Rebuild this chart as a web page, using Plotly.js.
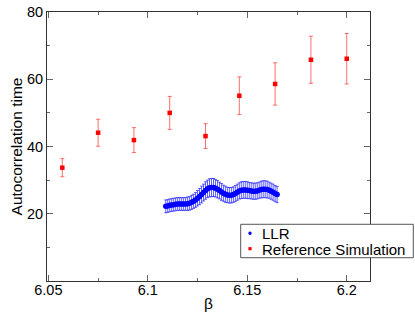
<!DOCTYPE html>
<html>
<head>
<meta charset="utf-8">
<script src="https://cdn.plot.ly/plotly-3.0.1.min.js"></script>
<style>html,body{margin:0;padding:0;background:#fff;}#chart{width:415px;height:321px;}</style>
</head>
<body>
<div id="chart"></div>
<script>
// Reference simulation
const refBeta = [6.057, 6.075, 6.093, 6.111, 6.129, 6.146, 6.164, 6.182, 6.2];
const refTau  = [33.7, 44.1, 41.9, 50.0, 43.1, 55.1, 58.6, 65.8, 66.1];
const refErr  = [2.7, 4.0, 3.7, 4.9, 3.7, 5.6, 6.3, 7.0, 7.5];

// LLR
const llrBeta = [6.109,6.110,6.111,6.112,6.113,6.114,6.115,6.116,6.117,6.118,
                 6.119,6.120,6.121,6.122,6.123,6.124,6.125,6.126,6.127,6.128,
                 6.129,6.130,6.131,6.132,6.133,6.134,6.135,6.136,6.137,6.138,
                 6.139,6.140,6.141,6.142,6.143,6.144,6.145,6.146,6.147,6.148,
                 6.149,6.150,6.151,6.152,6.153,6.154,6.155,6.156,6.157,6.158,
                 6.159,6.160,6.161,6.162,6.163,6.164,6.165];
const llrTau  = [22.2,22.3,22.5,22.6,22.7,22.8,22.9,22.9,22.9,22.9,
                 22.9,23.0,23.1,23.4,23.7,24.1,24.6,25.1,25.7,26.3,
                 26.9,27.4,27.7,27.8,27.8,27.6,27.3,26.9,26.5,26.1,
                 25.8,25.6,25.5,25.5,25.7,26.0,26.4,26.8,27.0,27.1,
                 27.1,27.0,26.9,26.8,26.7,26.7,26.8,27.0,27.2,27.3,
                 27.3,27.2,27.0,26.7,26.4,26.0,25.7];
const llrErr  = [1.9,1.9,1.9,1.9,1.9,1.9,1.9,1.9,1.9,1.9,
                 1.9,2.0,2.0,2.1,2.1,2.2,2.3,2.4,2.5,2.5,
                 2.6,2.6,2.7,2.7,2.7,2.6,2.6,2.5,2.5,2.4,
                 2.4,2.3,2.3,2.3,2.3,2.4,2.4,2.4,2.5,2.5,
                 2.5,2.5,2.4,2.4,2.4,2.4,2.4,2.4,2.5,2.5,
                 2.5,2.5,2.4,2.4,2.4,2.4,2.4];

const xTickVals = [6.05, 6.1, 6.15, 6.2];
const xTickText = ['6.05', '6.1', '6.15', '6.2'];
const yTickVals = [20, 40, 60, 80];
const yTickText = ['20', '40', '60', '80'];
const seriesNames = ['LLR', 'Reference Simulation'];
const seriesColors = ['#0000ff', '#ff0000'];

const FONT = 'Liberation Sans, Arial, sans-serif';

const traces = [
  {
    x: llrBeta, y: llrTau, name: seriesNames[0], type: 'scatter', mode: 'markers',
    marker: {color: seriesColors[0], size: 5.5, symbol: 'circle'},
    error_y: {type: 'data', array: llrErr, visible: true, color: 'rgba(40,40,255,0.75)', thickness: 1, width: 1.5}
  },
  {
    x: refBeta, y: refTau, name: seriesNames[1], type: 'scatter', mode: 'markers',
    marker: {color: seriesColors[1], size: 4.5, symbol: 'square'},
    error_y: {type: 'data', array: refErr, visible: true, color: 'rgba(255,60,60,0.75)', thickness: 1, width: 2}
  }
];

const axisCommon = {
  showgrid: false, zeroline: false, showline: true, linecolor: '#333', linewidth: 1,
  mirror: 'allticks', ticks: 'inside', ticklen: 6, tickwidth: 1, tickcolor: '#666',
  tickfont: {family: FONT, size: 14.5, color: '#000'}
};

// Legend box (paper coordinates), built as shapes + annotations
const legX0 = 0.5997, legX1 = 1.134, legY0 = 0.0866, legY1 = 0.2108;
const legRowY = [0.178, 0.1165];
const legSymX = 0.6285, legTextX = 0.6625;

const shapes = [
  {type: 'rect', xref: 'paper', yref: 'paper', x0: legX0, x1: legX1, y0: legY0, y1: legY1,
   fillcolor: '#fff', line: {color: '#555', width: 1}, layer: 'above'},
  {type: 'circle', xref: 'paper', yref: 'paper', xsizemode: 'pixel', ysizemode: 'pixel',
   xanchor: legSymX, yanchor: 0.1773, x0: -1.7, x1: 1.7, y0: -1.7, y1: 1.7,
   fillcolor: seriesColors[0], line: {width: 0}, layer: 'above'},
  {type: 'rect', xref: 'paper', yref: 'paper', xsizemode: 'pixel', ysizemode: 'pixel',
   xanchor: legSymX, yanchor: 0.1201, x0: -1.6, x1: 1.6, y0: -1.6, y1: 1.6,
   fillcolor: seriesColors[1], line: {width: 0}, layer: 'above'}
];

const annotations = seriesNames.map((n, i) => ({
  text: n, xref: 'paper', yref: 'paper', x: legTextX, y: legRowY[i],
  xanchor: 'left', yanchor: 'middle', showarrow: false, borderpad: 0,
  font: {family: FONT, size: 15, color: '#000'}
}));

const layout = {
  width: 415, height: 321,
  margin: {l: 47, r: 45, t: 12, b: 40, autoexpand: false},
  paper_bgcolor: '#fff', plot_bgcolor: '#fff',
  showlegend: false,
  font: {family: FONT, color: '#000'},
  xaxis: Object.assign({}, axisCommon, {
    range: [6.0493, 6.2117],
    tickmode: 'array', tickvals: xTickVals, ticktext: xTickText,
    ticklabelstandoff: -4,
    minor: {tickmode: 'linear', tick0: 6.05, dtick: 0.025, ticks: 'inside', ticklen: 3, tickcolor: '#666', tickwidth: 1},
    title: {text: 'β', font: {family: FONT, size: 15.5, color: '#000'}, standoff: 0}
  }),
  yaxis: Object.assign({}, axisCommon, {
    range: [0, 80],
    tickmode: 'array', tickvals: yTickVals, ticktext: yTickText,
    minor: {tickmode: 'linear', tick0: 0, dtick: 10, ticks: 'inside', ticklen: 3, tickcolor: '#666', tickwidth: 1},
    title: {text: 'Autocorrelation time', font: {family: FONT, size: 15.5, color: '#000'}, standoff: 0}
  }),
  shapes: shapes,
  annotations: annotations
};

Plotly.newPlot('chart', traces, layout, {staticPlot: true, displayModeBar: false});
</script>
</body>
</html>
